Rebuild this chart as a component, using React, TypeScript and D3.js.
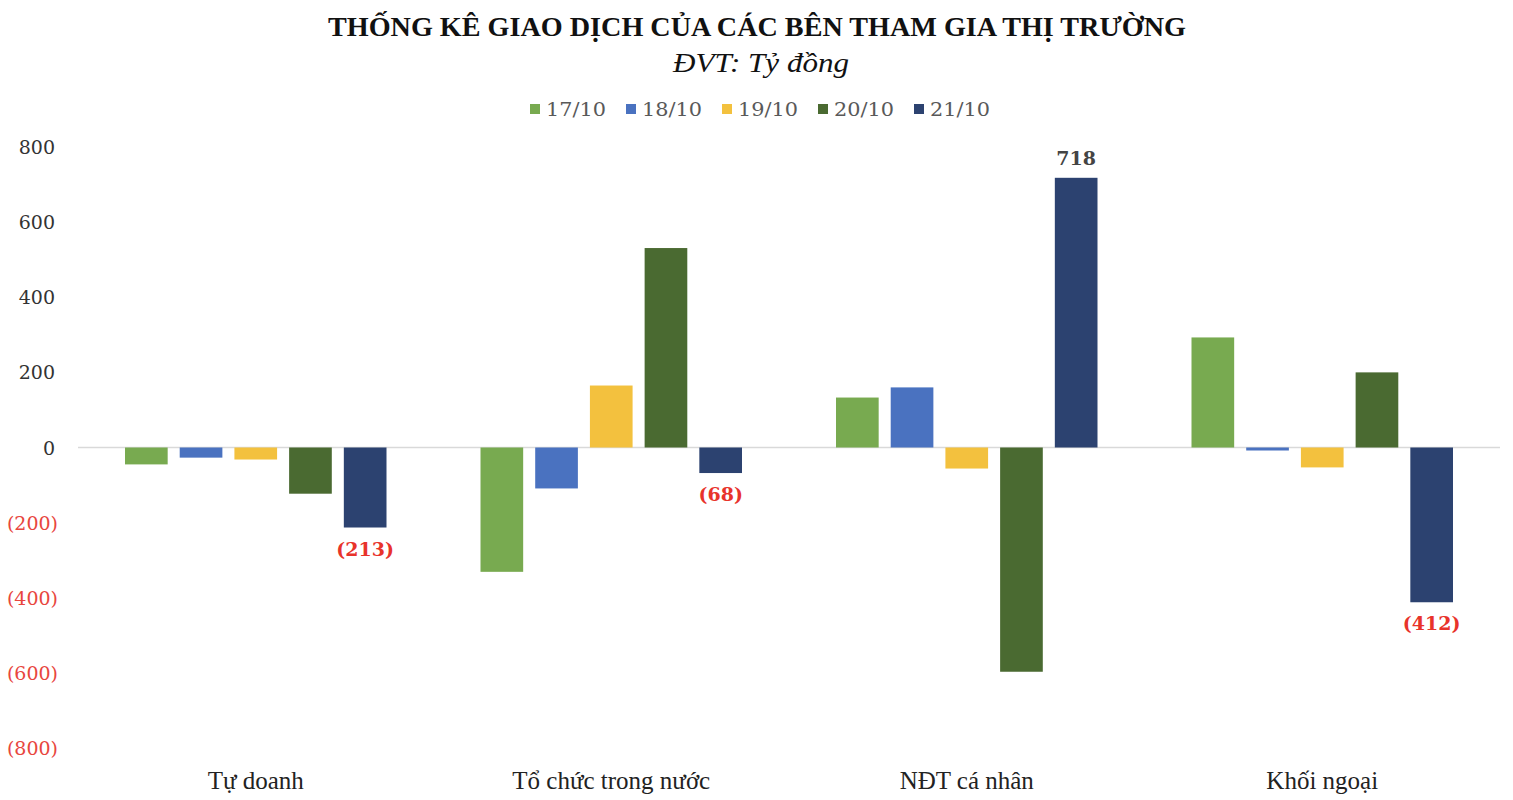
import React from "react";
import * as d3 from "d3";

const categories = ["Tự doanh", "Tổ chức trong nước", "NĐT cá nhân", "Khối ngoại"];
const seriesNames = ["17/10", "18/10", "19/10", "20/10", "21/10"];
const s1710 = [-45, -331, 133, 293];
const s1810 = [-27, -109, 160, -8];
const s1910 = [-32, 165, -56, -53];
const s2010 = [-123, 531, -597, 200];
const s2110 = [-213, -68, 718, -412];
const seriesValues = [s1710, s1810, s1910, s2010, s2110];
const colors = ["#78aa50", "#4a72c0", "#f3c13e", "#4a6a31", "#2c4270"];
const yTicks = [800, 600, 400, 200, 0, -200, -400, -600, -800];
// labelled points: [series index, category index]
const labelled: [number, number][] = [[4, 0], [4, 1], [4, 2], [4, 3]];

const fmt = (v: number) => (v < 0 ? `(${Math.abs(v)})` : `${v}`);

export default function App() {
  const W = 1513, H = 800;
  const left = 78, right = 1500, top = 147, bottom = 748;
  const y = d3.scaleLinear().domain([-800, 800]).range([bottom, top]);
  const x0 = d3.scaleBand<string>().domain(categories).range([left, right]).paddingInner(0).paddingOuter(0);
  const x1 = d3.scaleBand<string>().domain(seriesNames).range([47, x0.bandwidth() - 47]).paddingInner(0.22).paddingOuter(0);
  const serif = "'DejaVu Serif', 'Liberation Serif', serif";
  const serifC = "'Liberation Serif', serif";
  const legendX = [530, 626, 722, 818, 914];

  return (
    <svg width={W} height={H} style={{ display: "block", position: "absolute", left: 0, top: 0, background: "#fff" }}>
      <text x={757} y={36} textAnchor="middle" fontFamily={serifC} fontWeight="bold" fontSize={27} fill="#111" textLength={858} lengthAdjust="spacingAndGlyphs">THỐNG KÊ GIAO DỊCH CỦA CÁC BÊN THAM GIA THỊ TRƯỜNG</text>
      <text x={761} y={72} textAnchor="middle" fontFamily={serifC} fontStyle="italic" fontSize={27} fill="#111" textLength={176} lengthAdjust="spacingAndGlyphs">ĐVT: Tỷ đồng</text>
      {seriesNames.map((n, i) => (
        <g key={n}>
          <rect x={legendX[i]} y={104} width={10} height={10} fill={colors[i]} />
          <text x={legendX[i] + 16} y={116} fontFamily={serif} fontSize={19} fill="#595959" textLength={60} lengthAdjust="spacingAndGlyphs">{n}</text>
        </g>
      ))}
      {yTicks.map((t) => (
        <text key={t} x={t < 0 ? 58 : 55} y={y(t) + 7} textAnchor="end" fontFamily={serif} fontSize={19} fill={t < 0 ? "#e8463e" : "#333"}>{fmt(t)}</text>
      ))}
      <line x1={left} x2={right} y1={y(0)} y2={y(0)} stroke="#d9d9d9" strokeWidth={1.5} />
      {categories.map((c, ci) => (
        <g key={c} transform={`translate(${x0(c)},0)`}>
          {seriesNames.map((s, si) => {
            const v = seriesValues[si][ci];
            return (
              <rect key={s} x={x1(s)} y={Math.min(y(v), y(0))} width={x1.bandwidth()} height={Math.abs(y(v) - y(0))} fill={colors[si]} />
            );
          })}
          <text x={x0.bandwidth() / 2} y={789} textAnchor="middle" fontFamily={serifC} fontSize={25} fill="#222">{c}</text>
        </g>
      ))}
      {labelled.map(([si, ci]) => {
        const v = seriesValues[si][ci];
        const cx = (x0(categories[ci]) as number) + (x1(seriesNames[si]) as number) + x1.bandwidth() / 2;
        const ty = v < 0 ? y(v) + 28 : y(v) - 13;
        return (
          <text key={`${si}-${ci}`} x={cx} y={ty} textAnchor="middle" fontFamily={serif} fontWeight="bold" fontSize={19} fill={v < 0 ? "#e8332b" : "#444"}>{fmt(v)}</text>
        );
      })}
    </svg>
  );
}
